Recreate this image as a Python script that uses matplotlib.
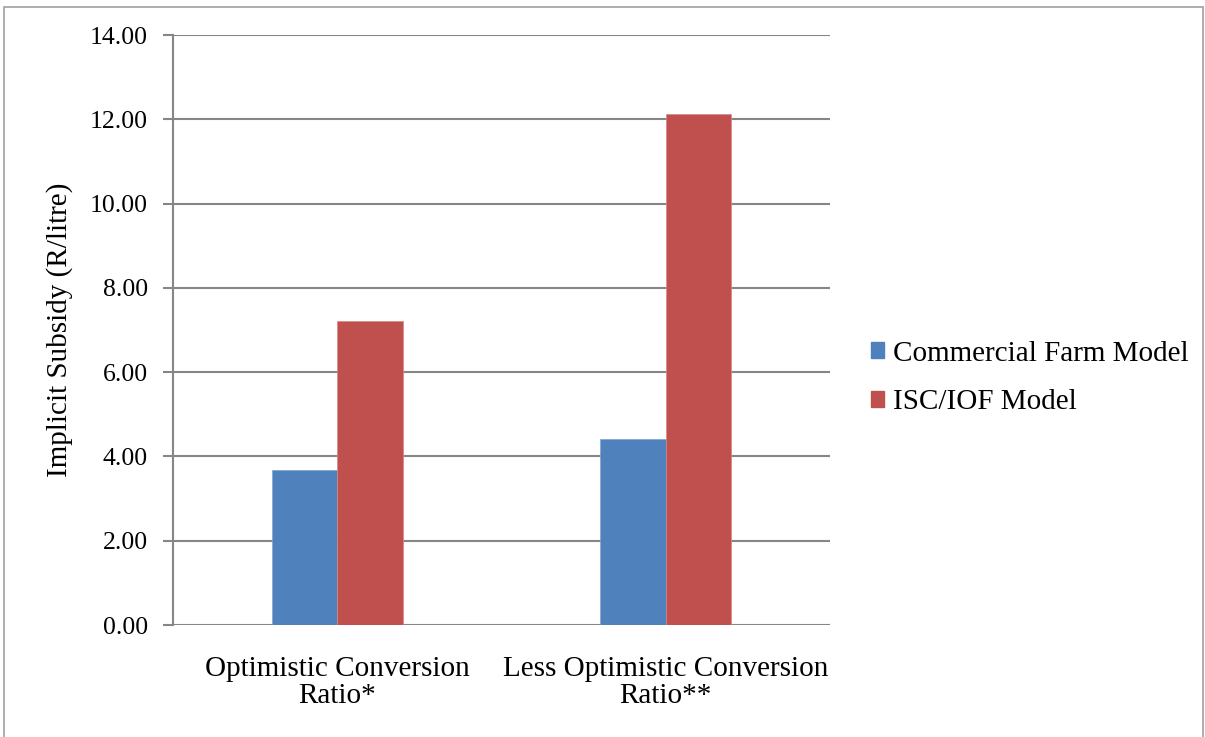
import matplotlib
matplotlib.use("Agg")
import matplotlib.pyplot as plt
from matplotlib.patches import Rectangle
import numpy as np

categories = ["Optimistic Conversion\nRatio*", "Less Optimistic Conversion\nRatio**"]
series_names = ["Commercial Farm Model", "ISC/IOF Model"]
commercial = [3.67, 4.41]
isc_iof = [7.21, 12.13]
yticks = [0, 2, 4, 6, 8, 10, 12, 14]

colors = ["#4F81BD", "#C0504D"]
grid_color = "#868686"
font = "Liberation Serif"

fig = plt.figure(figsize=(12.05, 7.37), dpi=100)
fig.patches.append(Rectangle((4 / 1205, -0.01), 1199 / 1205, (737 - 7) / 737 + 0.01,
                             transform=fig.transFigure, fill=False,
                             edgecolor="#A0A0A0", linewidth=1.2))

ax = fig.add_axes([173 / 1205, (737 - 625) / 737, 657 / 1205, 590 / 737])

x = np.arange(len(categories)) + 0.5
w = 0.2
ax.bar(x - w / 2, commercial, width=w, color=colors[0], label=series_names[0],
       edgecolor="#7FA3D0", linewidth=0.5, zorder=3)
ax.bar(x + w / 2, isc_iof, width=w, color=colors[1], label=series_names[1],
       edgecolor="#D48A88", linewidth=0.5, zorder=3)

ax.set_xlim(0, len(categories))
ax.set_ylim(0, 14)
ax.set_yticks(yticks)
ax.set_yticklabels([f"{v:.2f}" for v in yticks], fontfamily=font, fontsize=18.5)
ax.set_xticks(x)
ax.set_xticklabels(categories, fontfamily=font, fontsize=21, linespacing=1.05)
ax.tick_params(axis="x", length=0, pad=22)
ax.tick_params(axis="y", length=7, width=1.5, color=grid_color, pad=11)

ax.grid(axis="y", color=grid_color, linewidth=1.5, zorder=0)
ax.set_axisbelow(True)
for s in ["top", "right", "bottom"]:
    ax.spines[s].set_visible(False)
ax.spines["left"].set_color(grid_color)
ax.spines["left"].set_linewidth(1.5)

ax.set_ylabel("Implicit Subsidy (R/litre)", fontfamily=font, fontsize=21, labelpad=12)

handles = [Rectangle((0, 0), 1, 1, color=c) for c in colors]
fig.legend(handles, series_names, loc="center left",
           bbox_to_anchor=(859 / 1205, 1 - 378 / 737),
           frameon=False, prop={"family": font, "size": 21},
           handlelength=0.45, handleheight=0.45, handletextpad=0.3,
           labelspacing=0.78, borderaxespad=0)

fig.savefig("out.png", dpi=100)
